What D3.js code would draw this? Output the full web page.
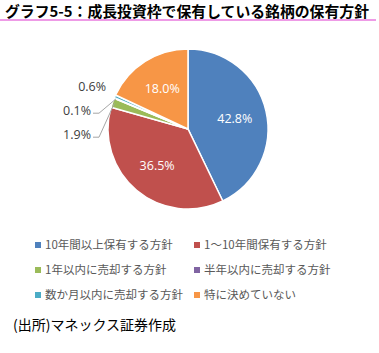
<!DOCTYPE html>
<html>
<head>
<meta charset="utf-8">
<script src="https://cdn.jsdelivr.net/npm/d3@7"></script>
<style>
  body { margin: 0; background: #fff; }
  svg { display: block; }
</style>
</head>
<body>
<div id="chart"></div>
<script>
// chart data
var titleText = "グラフ5-5：成長投資枠で保有している銘柄の保有方針";
var sourceText = "(出所)マネックス証券作成";
var categories = ["10年間以上保有する方針", "1〜10年間保有する方針", "1年以内に売却する方針",
                  "半年以内に売却する方針", "数か月以内に売却する方針", "特に決めていない"];
var values = [42.8, 36.5, 1.9, 0.1, 0.6, 18.0];
var colors = ["#4f81bd", "#c0504d", "#9bbb59", "#8064a2", "#4bacc6", "#f79646"];

var W = 379, H = 353;
var cx = 188, cy = 129, R = 80;
var jp = "'Noto Sans CJK JP', 'Noto Sans', sans-serif";

var svg = d3.select("#chart").append("svg")
  .attr("width", W)
  .attr("height", H);

// title + pink rule
svg.append("text")
  .attr("x", 5)
  .attr("y", 17)
  .style("font-family", jp)
  .style("font-weight", "bold")
  .style("font-size", "14.5px")
  .attr("textLength", 364)
  .attr("lengthAdjust", "spacingAndGlyphs")
  .text(titleText);
svg.append("line")
  .attr("x1", 0).attr("x2", 376)
  .attr("y1", 20).attr("y2", 20)
  .style("stroke", "#ee9be6")
  .style("stroke-width", 2);

var data = categories.map(function(c, i) { return {k: c, v: values[i], color: colors[i]}; });

var pie = d3.pie()
  .sort(null)
  .value(function(d) { return d.v; });
var arcs = pie(data);

var arc = d3.arc().innerRadius(0).outerRadius(R);
var labelArc = d3.arc().innerRadius(R * 0.6).outerRadius(R * 0.6);

var g = svg.append("g")
  .attr("transform", "translate(" + cx + "," + cy + ")");

g.selectAll(".slice").data(arcs)
  .enter().append("path")
  .attr("class", "slice")
  .attr("d", arc)
  .style("fill", function(d) { return d.data.color; })
  .style("stroke", "#fff")
  .style("stroke-width", 1.5);

function fmt(v) { return d3.format(".1f")(v) + "%"; }
function mid(d) { return (d.startAngle + d.endAngle) / 2; }

// inside labels for big slices
var big = arcs.filter(function(d) { return d.data.v >= 5; });
g.selectAll(".inlabel").data(big)
  .enter().append("text")
  .attr("class", "inlabel")
  .attr("transform", function(d) { return "translate(" + labelArc.centroid(d) + ")"; })
  .attr("text-anchor", "middle")
  .attr("dy", "0.35em")
  .style("font-family", "'Open Sans', sans-serif")
  .style("font-size", "12.5px")
  .style("fill", "#fff")
  .text(function(d) { return fmt(d.data.v); });

// outside labels for small slices, stacked from the top
var small = arcs.filter(function(d) { return d.data.v < 5; })
  .sort(function(a, b) { return mid(b) - mid(a); });
var outR = R + 25, gap = 24, prevY = -Infinity;
small.forEach(function(d) {
  var a = mid(d);
  var ny = -outR * Math.cos(a);
  d.ly = Math.max(ny, prevY + gap);
  d.moved = d.ly - ny > 2;
  d.lx = d.moved ? -R - 17 : outR * Math.sin(a);
  prevY = d.ly;
});

g.selectAll(".outlabel").data(small)
  .enter().append("text")
  .attr("class", "outlabel")
  .attr("x", function(d) { return d.lx; })
  .attr("y", function(d) { return d.ly; })
  .attr("dy", "0.35em")
  .attr("text-anchor", function(d) { return d.moved ? "end" : "middle"; })
  .style("font-family", "'Open Sans', sans-serif")
  .style("font-size", "12.5px")
  .style("fill", "#404040")
  .text(function(d) { return fmt(d.data.v); });

g.selectAll(".leader").data(small.filter(function(d) { return d.moved; }))
  .enter().append("polyline")
  .attr("class", "leader")
  .attr("points", function(d) {
    var a = mid(d);
    var ex = (R - 2) * Math.sin(a), ey = -(R - 2) * Math.cos(a);
    return [[d.lx + 2, d.ly + 3], [d.lx + 8, d.ly + 3], [ex, ey]].join(" ");
  })
  .style("fill", "none")
  .style("stroke", "#a6a6a6")
  .style("stroke-width", 1);

// legend, two columns
var legend = svg.selectAll(".legend").data(data)
  .enter().append("g")
  .attr("class", "legend")
  .attr("transform", function(d, i) {
    return "translate(" + (i % 2 ? 194 : 35) + "," + (245 + Math.floor(i / 2) * 25) + ")";
  });
legend.append("rect")
  .attr("x", 0).attr("y", -3)
  .attr("width", 6).attr("height", 6)
  .style("fill", function(d) { return d.color; });
legend.append("text")
  .attr("x", 10)
  .attr("dy", "0.35em")
  .style("font-family", jp)
  .style("font-size", "11.5px")
  .style("fill", "#595959")
  .text(function(d) { return d.k; });

// source note
svg.append("text")
  .attr("x", 13)
  .attr("y", 330)
  .style("font-family", jp)
  .style("font-size", "14px")
  .style("fill", "#000")
  .text(sourceText);
</script>
</body>
</html>
